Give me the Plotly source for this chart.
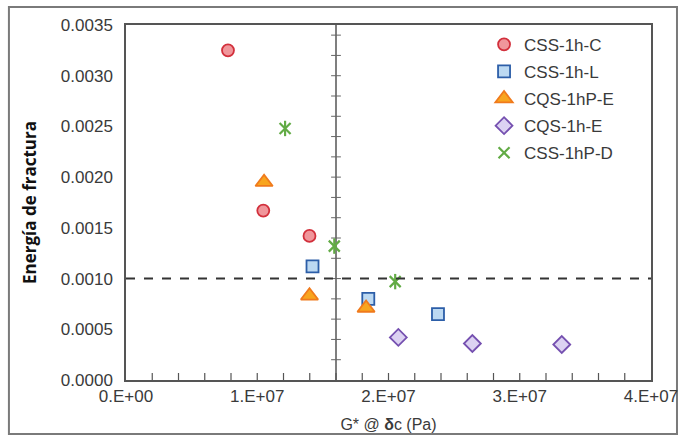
import plotly.graph_objects as go

# Fracture energy vs G* at critical phase angle, per binder
css_c_x = [0.777e7, 1.046e7, 1.398e7]
css_c_y = [0.00325, 0.00167, 0.00142]

css_l_x = [1.421e7, 1.846e7, 2.377e7]
css_l_y = [0.00112, 0.00080, 0.00065]

cqs_pe_x = [1.052e7, 1.398e7, 1.829e7]
cqs_pe_y = [0.00195, 0.00083, 0.00071]

cqs_e_x = [2.075e7, 2.639e7, 3.320e7]
cqs_e_y = [0.00042, 0.00036, 0.00035]

css_pd_x = [1.212e7, 1.587e7, 2.051e7]
css_pd_y = [0.00248, 0.00132, 0.00097]

x_ticks = [0, 1e7, 2e7, 3e7, 4e7]
x_tick_text = ["0.E+00", "1.E+07", "2.E+07", "3.E+07", "4.E+07"]
y_ticks = [0, 0.0005, 0.0010, 0.0015, 0.0020, 0.0025, 0.0030, 0.0035]
y_tick_text = ["0.0000", "0.0005", "0.0010", "0.0015", "0.0020", "0.0025", "0.0030", "0.0035"]

g_limit = 1.6e7      # vertical reference line
e_limit = 0.0010     # horizontal reference line
ref_tick_step = 0.0002
ref_line_ticks = [k * ref_tick_step for k in range(1, 18)]
x_tick_step = 2e6
x_axis_ticks = [k * x_tick_step for k in range(1, 20)]

fig = go.Figure()

series = [
    ("CSS-1h-C", css_c_x, css_c_y, dict(symbol="circle", size=12, color="#f0969b",
                                         line=dict(color="#d2303c", width=1.8))),
    ("CSS-1h-L", css_l_x, css_l_y, dict(symbol="square", size=12, color="#bcd9f2",
                                         line=dict(color="#2c5ea8", width=1.8))),
    ("CQS-1hP-E", cqs_pe_x, cqs_pe_y, dict(symbol="triangle-up", size=15, color="#f8a51e",
                                            line=dict(color="#f07a1c", width=1.8))),
    ("CQS-1h-E", cqs_e_x, cqs_e_y, dict(symbol="diamond", size=13, color="#dcd2f2",
                                         line=dict(color="#7550b0", width=1.8))),
    ("CSS-1hP-D", css_pd_x, css_pd_y, dict(symbol="x-thin-open", size=11, color="#62ab45",
                                            line=dict(color="#62ab45", width=2.2))),
]

# vertical reference line with small tick marks along it
fig.add_shape(type="line", xref="x", yref="paper", x0=g_limit, x1=g_limit, y0=0, y1=1,
              line=dict(color="#555555", width=1.5), layer="below")
fig.add_trace(go.Scatter(
    x=[g_limit] * len(ref_line_ticks), y=ref_line_ticks, mode="markers",
    showlegend=False, hoverinfo="skip",
    marker=dict(symbol="line-ew-open", size=7, color="#666666",
                line=dict(color="#666666", width=1))))

# inward tick marks along the bottom axis, fixed pixel length
for xv in x_axis_ticks:
    fig.add_shape(type="line", xref="x", yref="paper", ysizemode="pixel", yanchor=0,
                  x0=xv, x1=xv, y0=0, y1=7,
                  line=dict(color="#555555", width=1.2))

for name, xs, ys, mk in series:
    fig.add_trace(go.Scatter(x=xs, y=ys, mode="markers", name=name,
                             legendgroup=name, marker=mk))

# vertical stroke completing the star marker
fig.add_trace(go.Scatter(
    x=css_pd_x, y=css_pd_y, mode="markers", showlegend=False, hoverinfo="skip",
    legendgroup="CSS-1hP-D",
    marker=dict(symbol="line-ns-open", size=11, color="#62ab45",
                line=dict(color="#62ab45", width=2.2))))

# horizontal reference line
fig.add_shape(type="line", xref="paper", yref="y", x0=0, x1=1, y0=e_limit, y1=e_limit,
              line=dict(color="#333333", width=2, dash="dash"))

# outer frame around the whole figure
fig.add_shape(type="rect", xref="paper", yref="paper",
              x0=-0.223, x1=1.0495, y0=-0.152, y1=1.0507,
              line=dict(color="#7a7a7a", width=2), layer="below")

tick_font = dict(family="Liberation Sans, Arial, sans-serif", size=17, color="#3a3a3a")

fig.update_layout(
    template="none",
    width=683, height=436,
    margin=dict(l=126, r=32, t=25, b=56, autoexpand=False),
    paper_bgcolor="white", plot_bgcolor="white",
    showlegend=True,
    legend=dict(x=0.682, y=0.995, xanchor="left", yanchor="top",
                bgcolor="rgba(0,0,0,0)", borderwidth=0,
                font=dict(family="Liberation Sans, Arial, sans-serif", size=17, color="#3a3a3a"),
                itemwidth=30, traceorder="grouped", tracegroupgap=2),
    xaxis=dict(range=[0, 4e7], tickvals=x_ticks, ticktext=x_tick_text,
               showgrid=False, zeroline=False, showline=True, linecolor="#555555",
               linewidth=1.5, mirror=True, ticks="", automargin=False,
               tickfont=tick_font,
               title=dict(text="G* @ <b>δ</b>c (Pa)", standoff=14,
                          font=dict(family="Liberation Sans, Arial, sans-serif", size=16, color="#3a3a3a"))),
    yaxis=dict(range=[0, 0.0035], tickvals=y_ticks, ticktext=y_tick_text,
               showgrid=False, zeroline=False, showline=True, linecolor="#555555",
               linewidth=1.5, mirror=True, ticks="", ticklabelstandoff=8, automargin=False,
               tickfont=tick_font,
               title=dict(text="<b>Energía de fractura</b>", standoff=20,
                          font=dict(family="Open Sans, Lato, sans-serif", size=17, color="#111111"))),
)

fig.write_html("out.html")
